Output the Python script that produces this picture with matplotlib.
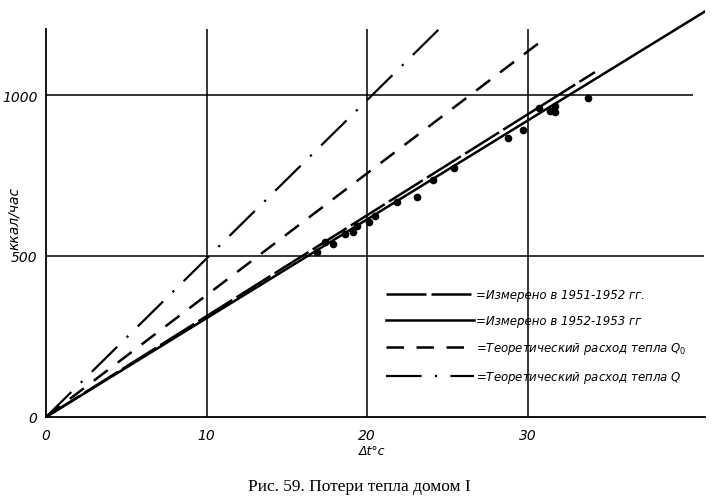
import numpy as np
from matplotlib import pyplot as plt

# измеренные точки
dt_pts = [16.9, 17.4, 17.9, 18.6, 19.1, 19.4, 20.1, 20.5, 21.9, 23.1,
          24.1, 25.4, 28.8, 29.7, 30.7, 31.4, 31.7, 31.7, 33.8]
q_pts = [512, 543, 537, 568, 575, 593, 605, 624, 668, 683,
         736, 773, 866, 891, 960, 950, 947, 966, 991]

# прямые (начало и конец)
meas1_dt = [0, 34.2]
meas1_q = [0, 1071]
meas2_dt = [0, 41.4]
meas2_q = [0, 1270]
q0_dt = [0, 30.8]
q0_q = [0, 1165]
q_dt = [0, 24.7]
q_q = [0, 1215]

labels = ["=Измерено в 1951-1952 гг.",
          "=Измерено в 1952-1953 гг",
          "=Теоретический расход тепла $Q_0$",
          "=Теоретический расход тепла $Q$"]

xticks = [0, 10, 20, 30]
yticks = [0, 500, 1000]

plt.rcParams['font.family'] = ['DejaVu Sans']

fig = plt.figure(figsize=(7.19, 5.02), dpi=100)
ax = fig.add_axes([46 / 719, 84 / 502, 659 / 719, 413 / 502])
ax.set_xlim(0, 659 / 16.05)
ax.set_ylim(0, 413 / 0.322)

for s in ['top', 'right']:
    ax.spines[s].set_visible(False)
ax.spines['left'].set_bounds(0, 1205)
ax.spines['left'].set_linewidth(1.3)
ax.spines['bottom'].set_linewidth(1.3)

# сетка
ax.vlines([10, 20, 30], 0, 1205, colors='black', lw=1.1)
ax.hlines(500, 0, 41, colors='black', lw=1.1)
ax.hlines(1000, 0, 40.3, colors='black', lw=1.1)

l1, = ax.plot(meas1_dt, meas1_q, color='black', lw=1.8, dashes=(16, 2))
l2, = ax.plot(meas2_dt, meas2_q, color='black', lw=1.8)
l3, = ax.plot(q0_dt, q0_q, color='black', lw=1.8, dashes=(7, 5))
l4, = ax.plot(q_dt, q_q, color='black', lw=1.6, dashes=(16, 6, 1, 6))
ax.plot(dt_pts, q_pts, 'o', color='black', ms=4.5)

ax.set_xticks(xticks)
ax.set_xticklabels([str(v) for v in xticks], fontstyle='italic', fontsize=10)
ax.set_yticks(yticks)
ax.set_yticklabels([str(v) for v in yticks], fontstyle='italic', fontsize=10)
ax.tick_params(axis='both', length=0)
ax.tick_params(axis='x', pad=8)
ax.tick_params(axis='y', pad=6)

ax.text(-2.0, 620, "ккал/час", rotation=90, fontstyle='italic', fontsize=10,
        ha='center', va='center')
ax.text(20.3, -105, "Δt°c", fontstyle='italic', fontsize=9, ha='center', va='center')

ax.legend([l1, l2, l3, l4], labels, loc='upper left',
          bbox_to_anchor=(334 / 659, 135 / 413), frameon=False, borderpad=0,
          handlelength=7.5, handletextpad=0.1, labelspacing=1.1,
          prop={'style': 'italic', 'size': 8.5})

fig.text(0.5, 0.03, "Рис. 59. Потери тепла домом I", family='Liberation Serif',
         fontsize=12.5, ha='center', va='center')

fig.savefig('out.png', dpi=100)
